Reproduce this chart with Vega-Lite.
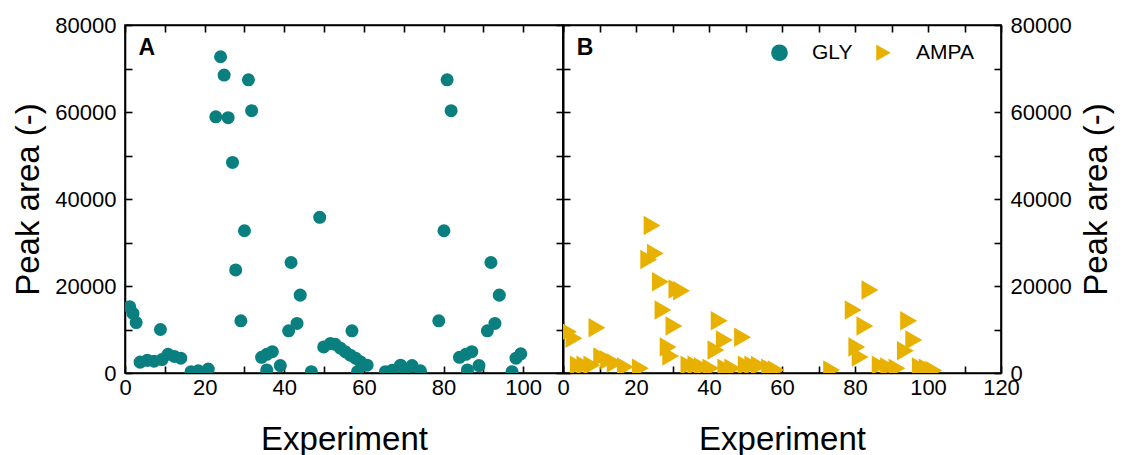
{
  "$schema": "https://vega.github.io/schema/vega-lite/v6.json",
  "background": "white",
  "padding": {"left": 12, "top": 13, "right": 10, "bottom": 0},
  "config": {
    "font": "Liberation Sans",
    "view": {"stroke": "black", "strokeWidth": 1.6},
    "concat": {"spacing": 0},
    "axis": {
      "domainColor": "black", "domainWidth": 1.6,
      "tickColor": "black", "tickWidth": 1.6, "tickSize": -7,
      "labelColor": "black", "titleColor": "black",
      "grid": false,
      "labelFont": "Liberation Sans", "labelFontSize": 22,
      "titleFont": "Liberation Sans", "titleFontSize": 33, "titleFontWeight": "normal",
      "labelFlush": false, "labelOverlap": false
    }
  },
  "datasets": {
    "gly": [
      {"experiment": 1.2, "peak": 15200}, {"experiment": 2.0, "peak": 13700}, {"experiment": 2.8, "peak": 11600},
      {"experiment": 3.8, "peak": 2500}, {"experiment": 5.6, "peak": 2900}, {"experiment": 7.3, "peak": 2700},
      {"experiment": 8.9, "peak": 10000}, {"experiment": 9.3, "peak": 3100}, {"experiment": 10.8, "peak": 4300},
      {"experiment": 12.4, "peak": 3800}, {"experiment": 14.0, "peak": 3400}, {"experiment": 16.6, "peak": 300},
      {"experiment": 18.4, "peak": 500}, {"experiment": 20.9, "peak": 900}, {"experiment": 22.8, "peak": 58900},
      {"experiment": 24.0, "peak": 72700}, {"experiment": 24.9, "peak": 68500}, {"experiment": 25.9, "peak": 58700},
      {"experiment": 27.0, "peak": 48400}, {"experiment": 27.8, "peak": 23700}, {"experiment": 29.1, "peak": 12000},
      {"experiment": 30.0, "peak": 32700}, {"experiment": 31.0, "peak": 67400}, {"experiment": 31.8, "peak": 60300},
      {"experiment": 34.3, "peak": 3600}, {"experiment": 35.6, "peak": 4300}, {"experiment": 37.0, "peak": 4900},
      {"experiment": 35.6, "peak": 700}, {"experiment": 39.0, "peak": 1700}, {"experiment": 41.1, "peak": 9700},
      {"experiment": 41.7, "peak": 25400}, {"experiment": 43.2, "peak": 11400}, {"experiment": 44.0, "peak": 17900},
      {"experiment": 46.8, "peak": 300}, {"experiment": 48.9, "peak": 35800}, {"experiment": 49.9, "peak": 6000},
      {"experiment": 51.6, "peak": 6800}, {"experiment": 52.8, "peak": 6600}, {"experiment": 54.1, "peak": 5700},
      {"experiment": 55.3, "peak": 4900}, {"experiment": 56.6, "peak": 4100}, {"experiment": 57.0, "peak": 9700},
      {"experiment": 57.9, "peak": 3400}, {"experiment": 58.4, "peak": 300}, {"experiment": 59.1, "peak": 2600},
      {"experiment": 60.8, "peak": 1800}, {"experiment": 65.4, "peak": 300}, {"experiment": 67.1, "peak": 600},
      {"experiment": 69.2, "peak": 1800}, {"experiment": 70.4, "peak": 600}, {"experiment": 72.1, "peak": 1700},
      {"experiment": 74.2, "peak": 500}, {"experiment": 78.8, "peak": 12000}, {"experiment": 80.1, "peak": 32700},
      {"experiment": 80.9, "peak": 67400}, {"experiment": 81.9, "peak": 60300}, {"experiment": 84.0, "peak": 3600},
      {"experiment": 85.6, "peak": 4300}, {"experiment": 87.1, "peak": 4900}, {"experiment": 86.0, "peak": 700},
      {"experiment": 88.9, "peak": 1700}, {"experiment": 91.0, "peak": 9700}, {"experiment": 91.9, "peak": 25400},
      {"experiment": 92.9, "peak": 11400}, {"experiment": 94.0, "peak": 17900}, {"experiment": 97.2, "peak": 300},
      {"experiment": 98.2, "peak": 3400}, {"experiment": 99.4, "peak": 4400}
    ],
    "ampa": [
      {"experiment": 1.5, "peak": 9500, "series": "AMPA"}, {"experiment": 3.0, "peak": 8000, "series": "AMPA"},
      {"experiment": 4.2, "peak": 1800, "series": "AMPA"}, {"experiment": 6.0, "peak": 1800, "series": "AMPA"},
      {"experiment": 7.9, "peak": 1800, "series": "AMPA"}, {"experiment": 9.3, "peak": 10400, "series": "AMPA"},
      {"experiment": 10.6, "peak": 3700, "series": "AMPA"}, {"experiment": 12.5, "peak": 3000, "series": "AMPA"},
      {"experiment": 14.3, "peak": 2300, "series": "AMPA"}, {"experiment": 17.1, "peak": 1400, "series": "AMPA"},
      {"experiment": 21.2, "peak": 1100, "series": "AMPA"}, {"experiment": 23.5, "peak": 26100, "series": "AMPA"},
      {"experiment": 24.4, "peak": 33900, "series": "AMPA"}, {"experiment": 25.3, "peak": 27500, "series": "AMPA"},
      {"experiment": 26.7, "peak": 21000, "series": "AMPA"}, {"experiment": 27.4, "peak": 14500, "series": "AMPA"},
      {"experiment": 28.8, "peak": 6000, "series": "AMPA"}, {"experiment": 29.5, "peak": 3900, "series": "AMPA"},
      {"experiment": 30.4, "peak": 10800, "series": "AMPA"}, {"experiment": 31.2, "peak": 19300, "series": "AMPA"},
      {"experiment": 32.5, "peak": 18900, "series": "AMPA"}, {"experiment": 34.5, "peak": 1800, "series": "AMPA"},
      {"experiment": 36.4, "peak": 1800, "series": "AMPA"}, {"experiment": 38.2, "peak": 1400, "series": "AMPA"},
      {"experiment": 40.5, "peak": 1100, "series": "AMPA"}, {"experiment": 41.9, "peak": 5300, "series": "AMPA"},
      {"experiment": 42.8, "peak": 12000, "series": "AMPA"}, {"experiment": 44.2, "peak": 7600, "series": "AMPA"},
      {"experiment": 44.6, "peak": 1100, "series": "AMPA"}, {"experiment": 46.5, "peak": 1100, "series": "AMPA"},
      {"experiment": 49.2, "peak": 8200, "series": "AMPA"}, {"experiment": 50.2, "peak": 1800, "series": "AMPA"},
      {"experiment": 52.0, "peak": 1800, "series": "AMPA"}, {"experiment": 53.8, "peak": 1700, "series": "AMPA"},
      {"experiment": 56.6, "peak": 1100, "series": "AMPA"}, {"experiment": 58.4, "peak": 700, "series": "AMPA"},
      {"experiment": 73.6, "peak": 700, "series": "AMPA"}, {"experiment": 79.5, "peak": 14500, "series": "AMPA"},
      {"experiment": 80.5, "peak": 6000, "series": "AMPA"}, {"experiment": 81.4, "peak": 3700, "series": "AMPA"},
      {"experiment": 82.7, "peak": 10800, "series": "AMPA"}, {"experiment": 84.1, "peak": 19100, "series": "AMPA"},
      {"experiment": 86.9, "peak": 1800, "series": "AMPA"}, {"experiment": 89.2, "peak": 1400, "series": "AMPA"},
      {"experiment": 91.5, "peak": 1100, "series": "AMPA"}, {"experiment": 93.8, "peak": 5100, "series": "AMPA"},
      {"experiment": 94.7, "peak": 12000, "series": "AMPA"}, {"experiment": 96.1, "peak": 7600, "series": "AMPA"},
      {"experiment": 97.9, "peak": 1400, "series": "AMPA"}, {"experiment": 99.8, "peak": 1100, "series": "AMPA"},
      {"experiment": 101.6, "peak": 600, "series": "AMPA"}
    ]
  },
  "spacing": 0,
  "bounds": "flush",
  "resolve": {
    "scale": {"color": "independent", "shape": "independent"},
    "legend": {"color": "independent", "shape": "independent"}
  },
  "hconcat": [
    {
      "width": 438,
      "height": 348,
      "layer": [
        {
          "data": {"name": "gly"},
          "mark": {"type": "point", "filled": true, "shape": "circle", "size": 170, "color": "#0a7f7f", "opacity": 1, "clip": true},
          "encoding": {
            "x": {
              "field": "experiment", "type": "quantitative",
              "scale": {"domain": [0, 110], "nice": false, "zero": false},
              "axis": {
                "orient": "bottom", "title": "Experiment",
                "values": [0, 10, 20, 30, 40, 50, 60, 70, 80, 90, 100, 110],
                "labelExpr": "datum.value % 20 === 0 && datum.value <= 100 ? datum.label : ''",
                "labelPadding": 11, "titlePadding": 25
              }
            },
            "y": {
              "field": "peak", "type": "quantitative",
              "scale": {"domain": [0, 80000], "nice": false},
              "axis": {
                "orient": "left", "title": "Peak area (-)", "format": "d",
                "values": [0, 10000, 20000, 30000, 40000, 50000, 60000, 70000, 80000],
                "labelExpr": "datum.value % 20000 === 0 ? datum.label : ''",
                "labelPadding": 16, "titlePadding": 9
              }
            }
          }
        },
        {
          "data": {"name": "gly"},
          "mark": {"type": "point", "opacity": 0, "clip": true},
          "encoding": {
            "x": {
              "field": "experiment", "type": "quantitative",
              "axis": {
                "orient": "top", "title": null, "labels": false,
                "values": [0, 10, 20, 30, 40, 50, 60, 70, 80, 90, 100, 110]
              }
            },
            "y": {
              "field": "peak", "type": "quantitative",
              "axis": {
                "orient": "right", "title": null, "labels": false,
                "values": [0, 10000, 20000, 30000, 40000, 50000, 60000, 70000, 80000]
              }
            }
          }
        },
        {
          "data": {"values": [{"panel": "A"}]},
          "mark": {"type": "text", "font": "Liberation Sans", "fontSize": 23, "fontWeight": "bold", "align": "left", "baseline": "alphabetic", "color": "black"},
          "encoding": {
            "text": {"field": "panel", "type": "nominal"},
            "x": {"datum": 3.4, "type": "quantitative", "axis": null},
            "y": {"datum": 73100, "type": "quantitative", "axis": null}
          }
        }
      ],
      "resolve": {"axis": {"x": "independent", "y": "independent"}}
    },
    {
      "width": 438,
      "height": 348,
      "layer": [
        {
          "data": {"name": "ampa"},
          "mark": {"type": "point", "filled": true, "size": 380, "opacity": 1, "clip": true},
          "encoding": {
            "x": {
              "field": "experiment", "type": "quantitative",
              "scale": {"domain": [0, 120], "nice": false, "zero": false},
              "axis": {
                "orient": "bottom", "title": "Experiment",
                "values": [0, 10, 20, 30, 40, 50, 60, 70, 80, 90, 100, 110, 120],
                "labelExpr": "datum.value % 20 === 0 ? datum.label : ''",
                "labelPadding": 11, "titlePadding": 25
              }
            },
            "y": {
              "field": "peak", "type": "quantitative",
              "scale": {"domain": [0, 80000], "nice": false},
              "axis": {
                "orient": "right", "title": "Peak area (-)", "format": "d",
                "titleAngle": 270, "titleBaseline": "top",
                "values": [0, 10000, 20000, 30000, 40000, 50000, 60000, 70000, 80000],
                "labelExpr": "datum.value % 20000 === 0 ? datum.label : ''",
                "labelPadding": 16, "titlePadding": 9
              }
            },
            "color": {
              "field": "series", "type": "nominal",
              "scale": {"domain": ["GLY", "AMPA"], "range": ["#0a7f7f", "#e8b100"]},
              "legend": {"title": null, "orient": "none", "legendX": 206, "legendY": 17, "padding": 0, "direction": "horizontal", "labelFontSize": 21, "labelFont": "Liberation Sans", "labelColor": "black", "symbolSize": 280, "labelOffset": 22, "columnPadding": 20}
            },
            "shape": {
              "field": "series", "type": "nominal",
              "scale": {"domain": ["GLY", "AMPA"], "range": ["circle", "triangle-right"]},
              "legend": {"title": null, "orient": "none", "legendX": 206, "legendY": 17, "padding": 0, "direction": "horizontal", "labelFontSize": 21, "labelFont": "Liberation Sans", "labelColor": "black", "symbolSize": 280, "labelOffset": 22, "columnPadding": 20}
            }
          }
        },
        {
          "data": {"name": "ampa"},
          "mark": {"type": "point", "opacity": 0, "clip": true},
          "encoding": {
            "x": {
              "field": "experiment", "type": "quantitative",
              "axis": {
                "orient": "top", "title": null, "labels": false,
                "values": [0, 10, 20, 30, 40, 50, 60, 70, 80, 90, 100, 110, 120]
              }
            },
            "y": {
              "field": "peak", "type": "quantitative",
              "axis": {
                "orient": "left", "title": null, "labels": false,
                "values": [0, 10000, 20000, 30000, 40000, 50000, 60000, 70000, 80000]
              }
            }
          }
        },
        {
          "data": {"values": [{"panel": "B"}]},
          "mark": {"type": "text", "font": "Liberation Sans", "fontSize": 23, "fontWeight": "bold", "align": "left", "baseline": "alphabetic", "color": "black"},
          "encoding": {
            "text": {"field": "panel", "type": "nominal"},
            "x": {"datum": 3.8, "type": "quantitative", "axis": null},
            "y": {"datum": 73100, "type": "quantitative", "axis": null}
          }
        }
      ],
      "resolve": {"axis": {"x": "independent", "y": "independent"}}
    }
  ]
}
